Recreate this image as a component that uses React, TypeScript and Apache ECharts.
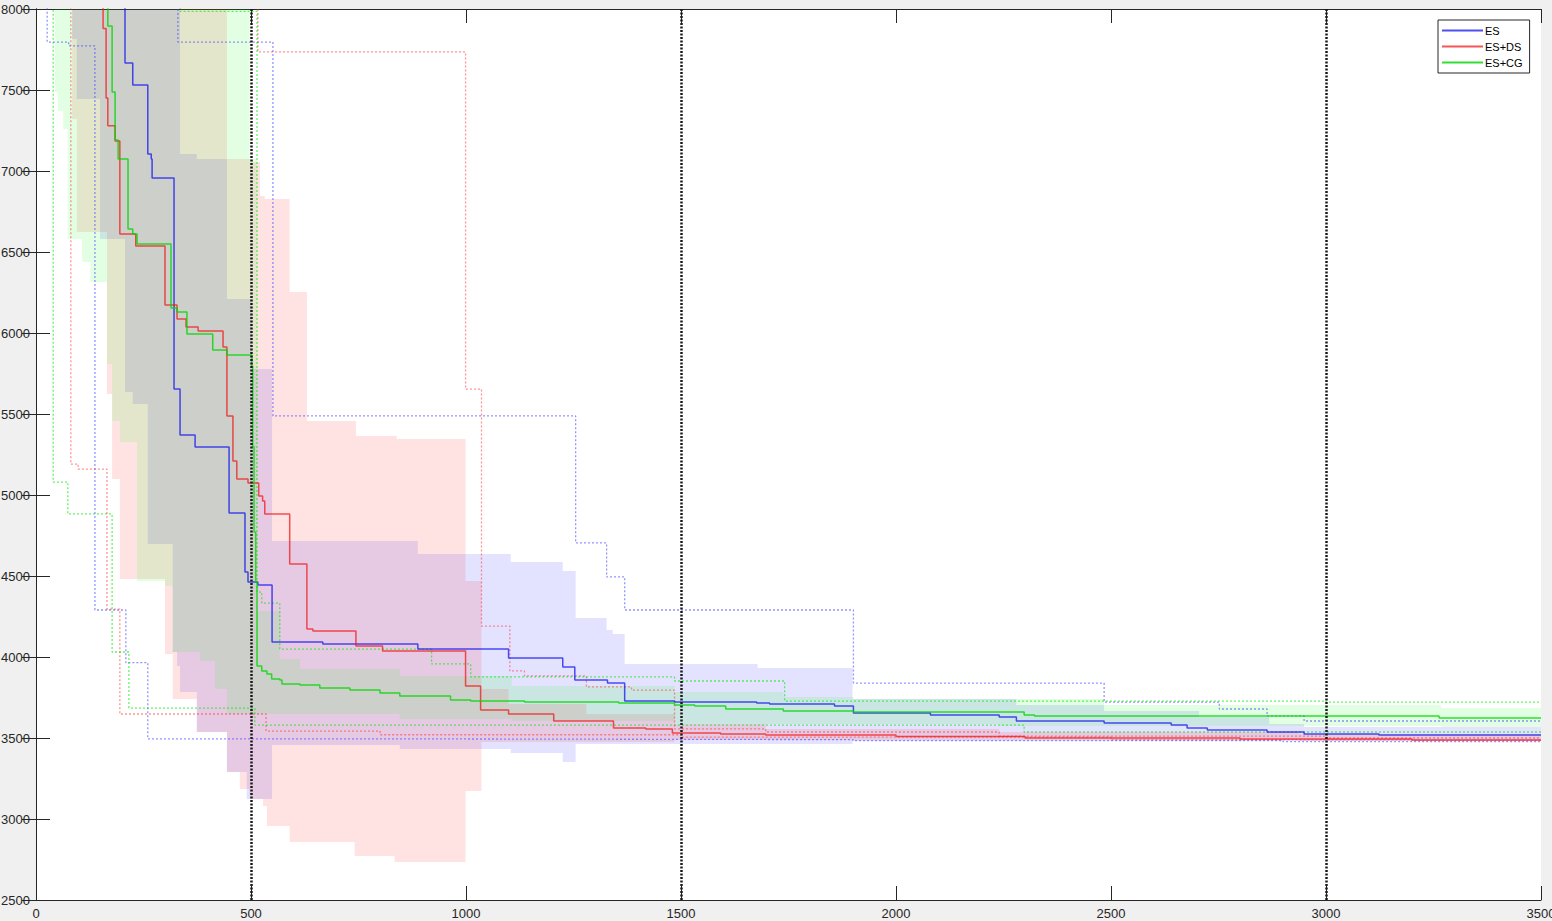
import { useEffect, useRef } from "react";
import * as echarts from "echarts";

const X_MIN = 0;
const X_MAX = 3500;
const X_STEP = 500;
const Y_MIN = 2500;
const Y_MAX = 8000;
const Y_STEP = 500;
const SERIES_NAMES = ["ES", "ES+DS", "ES+CG"];
const VLINES = [500, 1500, 3000];

// medians (step, value holds until next x)
const ES_MED = [[0,9000],[207,7667],[225,7531],[260,7105],[268,7074],[270,6957],[321,5654],[335,5370],[370,5296],[449,4889],[486,4525],[493,4463],[516,4444],[549,4092],[667,4080],[888,4049],[1099,3994],[1225,3938],[1253,3858],[1329,3839],[1369,3728],[1485,3722],[1676,3716],[1706,3710],[1857,3697],[1901,3654],[2080,3642],[2240,3630],[2280,3605],[2484,3593],[2640,3580],[2677,3562],[2724,3549],[2863,3537],[2949,3525],[3123,3518],[3500,3518]];
const DS_MED = [[0,9000],[156,7880],[163,7450],[167,7280],[184,7185],[195,6611],[232,6537],[300,6173],[328,6086],[349,6037],[377,6012],[435,5914],[444,5488],[458,5210],[467,5099],[493,5074],[518,4994],[527,4963],[532,4883],[590,4574],[630,4173],[644,4160],[744,4068],[806,4037],[999,3821],[1034,3673],[1099,3648],[1204,3605],[1343,3562],[1418,3556],[1480,3531],[1592,3525],[1697,3518],[2000,3510],[2300,3500],[2800,3494],[3200,3488],[3500,3488]];
const CG_MED = [[0,9000],[167,7895],[177,7488],[184,7191],[191,7074],[214,6642],[225,6611],[235,6549],[314,6154],[328,6130],[351,5994],[411,5895],[444,5864],[502,5796],[504,5300],[507,4772],[511,4463],[514,3944],[525,3913],[537,3895],[548,3864],[567,3858],[572,3833],[614,3827],[660,3809],[730,3796],[800,3778],[846,3759],[964,3734],[1011,3728],[1136,3722],[1355,3716],[1485,3703],[1532,3697],[1604,3679],[1738,3667],[1901,3660],[2298,3642],[2322,3636],[3263,3623],[3500,3623]];

// best / worst runs (dotted)
const ES_MAX = [[0,9000],[330,7796],[551,5488],[1255,4704],[1327,4494],[1369,4290],[1901,3839],[2484,3722],[2752,3679],[2863,3636],[2949,3605],[3500,3605]];
const ES_MIN = [[0,9000],[26,7796],[76,7772],[137,4290],[209,3965],[260,3494],[1000,3490],[1900,3484],[2900,3478],[3500,3478]];
const DS_MAX = [[0,9000],[516,7735],[999,5654],[1036,4191],[1102,3914],[1136,3883],[1280,3815],[1385,3796],[1485,3556],[1697,3537],[2240,3512],[3000,3500],[3500,3500]];
const DS_MIN = [[0,9000],[81,5191],[98,5160],[165,4296],[195,3648],[535,3543],[800,3520],[1500,3505],[2500,3490],[3200,3485],[3500,3485]];
const CG_MAX = [[0,9000],[335,7985],[514,4401],[525,4333],[567,4049],[920,3957],[1011,3877],[1485,3852],[1741,3728],[3000,3722],[3500,3722]];
const CG_MIN = [[0,9000],[40,5080],[74,4883],[177,4031],[216,3685],[509,3580],[2298,3537],[3500,3537]];

// shaded bands [x, low, high]
const ES_BAND = [[84,7815,8600],[95,7444,8600],[149,6580,8600],[207,5636,8600],[225,5562,8600],[260,4697,8600],[318,4031,8600],[328,3944,8600],[335,3784,7105],[374,3537,7074],[444,3290,6210],[490,3123,6210],[502,3123,5778],[549,3457,4716],[846,3432,4716],[888,3432,4636],[1104,3407,4586],[1225,3352,4531],[1255,3463,4241],[1327,3463,4167],[1341,3463,4142],[1369,3463,3957],[1678,3463,3932],[1899,3481,3741],[2280,3481,3704],[2484,3481,3667],[2705,3481,3630],[2868,3481,3586],[2949,3481,3568]];
const DS_BAND = [[84,7321,8600],[95,6623,8600],[165,5623,8600],[177,5099,8600],[195,4481,8600],[300,4018,8600],[318,3741,8600],[374,3537,8600],[444,3290,7074],[474,3185,7074],[497,3123,7056],[521,3123,6846],[528,3080,6846],[532,3080,6827],[537,2957,6827],[590,2858,6253],[630,2858,5457],[741,2771,5457],[744,2771,5364],[834,2734,5364],[839,2734,5346],[999,3173,4469],[1036,3475,3802],[1099,3475,3710],[1280,3475,3648],[1485,3488,3586],[1697,3488,3555],[2240,3488,3537],[2937,3481,3525]];
const CG_BAND = [[44,7488,8600],[51,7370,8600],[63,7259,8600],[74,6580,8600],[107,6438,8600],[126,6315,8600],[165,5809,8600],[177,5457,8600],[195,5327,8600],[235,4469,8600],[300,4438,8600],[318,4031,8600],[381,3975,8600],[416,3802,8600],[444,3648,8600],[497,3648,7074],[514,3648,4284],[567,3648,3988],[614,3648,3926],[846,3617,3883],[1106,3605,3821],[1485,3586,3784],[1738,3586,3753],[1901,3586,3741],[2240,3574,3741],[2484,3574,3704],[3268,3568,3685]];

const FONT = "'Liberation Sans', Arial, Helvetica, sans-serif";
const AXIS_COLOR = "#262626";

function bandSeries(name: string, band: number[][], fill: string) {
  return {
    type: "custom",
    name,
    silent: true,
    z: 1,
    data: band,
    encode: { x: 0, y: [1, 2] },
    renderItem: (params: any, api: any) => {
      if (params.dataIndex !== 0) return null;
      const n = band.length;
      const cy = (v: number) => Math.min(Math.max(v, Y_MIN), Y_MAX);
      const pts: number[][] = [];
      for (let i = 0; i < n; i++) {
        const x0 = band[i][0];
        const x1 = i + 1 < n ? band[i + 1][0] : X_MAX;
        pts.push(api.coord([x0, cy(band[i][2])]));
        pts.push(api.coord([x1, cy(band[i][2])]));
      }
      for (let i = n - 1; i >= 0; i--) {
        const x0 = band[i][0];
        const x1 = i + 1 < n ? band[i + 1][0] : X_MAX;
        pts.push(api.coord([x1, cy(band[i][1])]));
        pts.push(api.coord([x0, cy(band[i][1])]));
      }
      return { type: "polygon", shape: { points: pts }, style: { fill } };
    },
  };
}

function stepLine(name: string, data: number[][], color: string, dotted: boolean, extra: any = {}) {
  return {
    type: "line",
    name,
    data,
    step: "end",
    symbol: "none",
    showSymbol: false,
    clip: true,
    silent: true,
    z: dotted ? 2 : 3,
    itemStyle: { color },
    lineStyle: dotted
      ? { color, width: 1.3, type: [2, 2] }
      : { color, width: 1.5, type: "solid" },
    ...extra,
  };
}

export default function App() {
  const ref = useRef<HTMLDivElement>(null);
  useEffect(() => {
    if (!ref.current) return;
    const chart = echarts.init(ref.current, undefined, { renderer: "svg" });
    const axisCommon = {
      type: "value",
      axisLine: { show: true, lineStyle: { color: AXIS_COLOR, width: 1 } },
      axisTick: { show: true, inside: true, length: 14, lineStyle: { color: AXIS_COLOR, width: 1 } },
      splitLine: { show: false },
    };
    const labelStyle = { color: AXIS_COLOR, fontSize: 13, fontFamily: FONT, formatter: (v: number) => String(v) };
    chart.setOption({
      animation: false,
      backgroundColor: "#f0f0f0",
      grid: {
        left: 36, right: 11, top: 9, bottom: 21,
        containLabel: false, outerBoundsMode: "none",
        show: true, backgroundColor: "#ffffff", borderWidth: 0,
      },
      legend: {
        data: SERIES_NAMES,
        orient: "vertical",
        left: 1438,
        top: 20,
        itemWidth: 41,
        itemHeight: 12,
        itemGap: 5,
        padding: [5, 7, 5, 3],
        backgroundColor: "#ffffff",
        borderColor: AXIS_COLOR,
        borderWidth: 1,
        borderRadius: 0,
        itemStyle: { opacity: 0 },
        textStyle: { fontSize: 11, color: "#000", fontFamily: FONT, padding: [0, 0, 0, -3] },
      },
      xAxis: [
        { ...axisCommon, min: X_MIN, max: X_MAX, interval: X_STEP, position: "bottom", axisLabel: { ...labelStyle, margin: 7 } },
        { ...axisCommon, min: X_MIN, max: X_MAX, interval: X_STEP, position: "top", axisLabel: { show: false } },
      ],
      yAxis: [
        { ...axisCommon, min: Y_MIN, max: Y_MAX, interval: Y_STEP, position: "left", axisLabel: { ...labelStyle, margin: 6 } },
        { ...axisCommon, min: Y_MIN, max: Y_MAX, interval: Y_STEP, position: "right", axisLabel: { show: false } },
      ],
      series: [
        bandSeries("ES band", ES_BAND, "rgba(0,0,255,0.11)"),
        bandSeries("ES+DS band", DS_BAND, "rgba(255,0,0,0.11)"),
        bandSeries("ES+CG band", CG_BAND, "rgba(0,255,0,0.11)"),
        stepLine("ES max", ES_MAX, "rgba(60,60,255,0.55)", true),
        stepLine("ES min", ES_MIN, "rgba(60,60,255,0.55)", true),
        stepLine("ES+DS max", DS_MAX, "rgba(255,40,40,0.5)", true),
        stepLine("ES+DS min", DS_MIN, "rgba(255,40,40,0.5)", true),
        stepLine("ES+CG max", CG_MAX, "rgba(0,230,0,0.6)", true),
        stepLine("ES+CG min", CG_MIN, "rgba(0,230,0,0.6)", true),
        stepLine(SERIES_NAMES[0], ES_MED, "rgba(20,20,240,0.75)", false),
        stepLine(SERIES_NAMES[1], DS_MED, "rgba(240,20,20,0.72)", false),
        stepLine(SERIES_NAMES[2], CG_MED, "rgba(0,215,0,0.8)", false, {
          markLine: {
            silent: true,
            symbol: ["none", "none"],
            label: { show: false },
            lineStyle: { color: "#1a1a1a", width: 2.5, type: [2, 1.5] },
            data: VLINES.map((v) => ({ xAxis: v })),
          },
        }),
      ],
    });
    return () => chart.dispose();
  }, []);
  return <div ref={ref} style={{ position: "fixed", left: 0, top: 0, width: 1552, height: 921 }} />;
}
